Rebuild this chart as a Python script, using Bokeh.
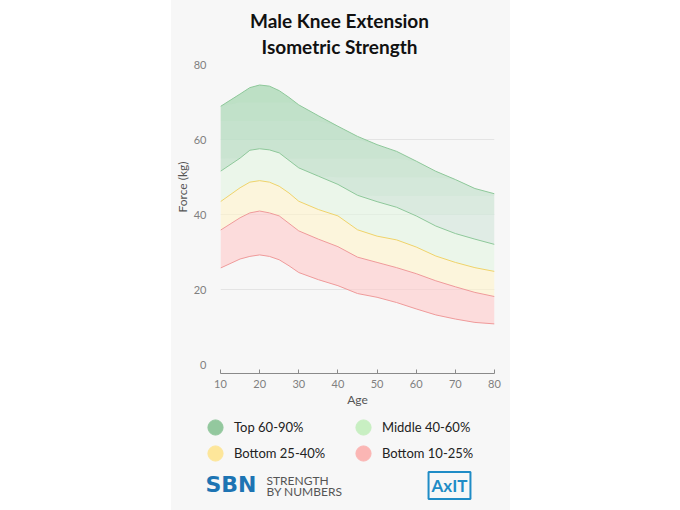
import numpy as np
from bokeh.plotting import figure
from bokeh.models import Label, Legend, LegendItem, FixedTicker, Spacer, Range1d
from bokeh.layouts import row, column
from bokeh.embed import file_html
from bokeh.resources import INLINE

# ---- data ----
ages = [10, 15, 17.5, 20, 22.5, 25, 27.5, 30, 35, 40, 45, 50, 55, 60, 65, 70, 75, 80]
p90 = [68.9, 72.2, 73.9, 74.6, 74.3, 73.1, 71.3, 69.3, 66.4, 63.6, 60.9, 58.7, 56.9, 54.3, 51.6, 49.4, 47.0, 45.6]
p60 = [51.6, 55.1, 57.2, 57.6, 57.3, 56.5, 54.5, 52.5, 50.3, 48.1, 45.2, 43.5, 42.0, 39.7, 37.0, 35.0, 33.5, 32.1]
p40 = [43.5, 47.2, 48.7, 49.1, 48.7, 47.6, 45.8, 43.6, 41.4, 39.7, 36.0, 34.3, 33.3, 31.4, 29.0, 27.3, 25.9, 24.9]
p25 = [35.9, 39.2, 40.5, 41.0, 40.5, 39.7, 37.7, 35.7, 33.5, 31.5, 28.7, 27.3, 25.9, 24.3, 22.4, 20.8, 19.3, 18.2]
p10 = [25.8, 28.2, 28.9, 29.3, 28.9, 28.0, 26.4, 24.6, 22.7, 21.1, 19.0, 18.0, 16.6, 14.9, 13.3, 12.2, 11.3, 10.9]

x_ticks = [10, 20, 30, 40, 50, 60, 70, 80]
y_ticks = [0, 20, 40, 60, 80]
legend_labels = ["Top 60-90%", "Middle 40-60%", "Bottom 25-40%", "Bottom 10-25%"]
legend_colors = ["#93c89e", "#c8efc2", "#fde69a", "#fbb6b4"]

BG = "#f7f7f7"
FONT = "Lato"

# ---------------- main chart (title drawn inside the tall frame) ----------------
p = figure(width=339, height=412, output_backend="svg", toolbar_location=None,
           x_range=Range1d(10, 80), y_range=Range1d(-2.32, 97.13),
           min_border_left=49, min_border_right=16, min_border_top=0, min_border_bottom=39,
           background_fill_color=BG, border_fill_color=BG, outline_line_color=None)
p.frame_align = False

# bands
p.varea(x=ages, y1=p60, y2=p90, fill_color="#dae9e0", fill_alpha=0.8)
# vertical gradient of the top band: light stacked layers above rising levels
lo, hi = np.array(p60), np.array(p90)
for level in (40, 45, 50, 55, 60, 65, 70):
    p.varea(x=ages, y1=np.minimum(np.maximum(lo, level), hi), y2=hi,
            fill_color="#8ed29c", fill_alpha=0.07)
p.varea(x=ages, y1=p40, y2=p60, fill_color="#e3f5e1", fill_alpha=0.6)
p.varea(x=ages, y1=p25, y2=p40, fill_color="#fff4ca", fill_alpha=0.6)
p.varea(x=ages, y1=p10, y2=p25, fill_color="#ffcaca", fill_alpha=0.6)

# lines
p.line(ages, p90, line_color="#8ec89a", line_width=1)
p.line(ages, p60, line_color="#8ec89a", line_width=1)
p.line(ages, p40, line_color="#efd36a", line_width=1)
p.line(ages, p25, line_color="#ef9a9a", line_width=1)
p.line(ages, p10, line_color="#ef9a9a", line_width=1)

# axes
p.xaxis.ticker = FixedTicker(ticks=x_ticks)
p.yaxis.ticker = FixedTicker(ticks=y_ticks)
p.xgrid.grid_line_color = None
p.ygrid.ticker = FixedTicker(ticks=[20, 40, 60])
p.ygrid.grid_line_color = "#e4e4e4"

p.xaxis.axis_line_color = "#8a8a8a"
p.xaxis.major_tick_line_color = "#8a8a8a"
p.xaxis.major_tick_in = 4
p.xaxis.major_tick_out = 0
p.xaxis.minor_tick_line_color = None
p.xaxis.major_label_standoff = 6
p.xaxis.axis_label = "Age"
p.xaxis.axis_label_standoff = 1

p.yaxis.axis_line_color = None
p.yaxis.major_tick_line_color = None
p.yaxis.minor_tick_line_color = None
p.yaxis.major_label_standoff = 8
p.yaxis.axis_label = "Force (kg)"
p.yaxis.axis_label_standoff = 1

for ax in (p.xaxis, p.yaxis):
    ax.major_label_text_font = FONT
    ax.major_label_text_font_size = "11px"
    ax.major_label_text_color = "#808080"
    ax.axis_label_text_font = FONT
    ax.axis_label_text_font_size = "12px"
    ax.axis_label_text_font_style = "normal"
    ax.axis_label_text_color = "#555555"

# title
for txt, yy in (("Male Knee Extension", 353.5), ("Isometric Strength", 327)):
    p.add_layout(Label(x=119, y=yy, x_units="screen", y_units="screen", text=txt,
                       text_align="center", text_baseline="middle", text_font=FONT,
                       text_font_size="19px", text_font_style="bold", text_color="#111111"))

# ---------------- footer: legend + logos ----------------
f = figure(width=339, height=98, output_backend="svg", toolbar_location=None,
           x_range=Range1d(0, 1), y_range=Range1d(0, 1),
           min_border_left=0, min_border_right=0, min_border_top=0, min_border_bottom=0,
           x_axis_location=None, y_axis_location=None,
           background_fill_color=BG, border_fill_color=BG, outline_line_color=None)
f.frame_align = False
f.xgrid.grid_line_color = None
f.ygrid.grid_line_color = None

items = []
for lab, col in zip(legend_labels, legend_colors):
    # proxy renderer (no visible data) used only for its legend swatch
    r = f.scatter(x=[np.nan], y=[np.nan], marker="circle", size=15,
                  fill_color=col, line_color=col)
    items.append(LegendItem(label=lab, renderers=[r]))

for row_items, vy in ((items[:2], 64), (items[2:], 38)):
    lg = Legend(items=row_items, orientation="horizontal", location=(25, vy),
                glyph_width=38, glyph_height=38, label_height=20, label_width=110,
                label_standoff=0, spacing=0, padding=0, margin=0,
                background_fill_alpha=0, border_line_alpha=0,
                label_text_font=FONT, label_text_font_size="13px", label_text_color="#222222")
    f.add_layout(lg, "center")

f.add_layout(Label(x=34, y=26, x_units="screen", y_units="screen", text="SBN",
                   text_align="left", text_baseline="middle", text_font="DejaVu Sans",
                   text_font_size="22px", text_font_style="bold", text_color="#1d74b3"))
f.add_layout(Label(x=95, y=29.6, x_units="screen", y_units="screen", text="STRENGTH",
                   text_align="left", text_baseline="middle", text_font=FONT,
                   text_font_size="12px", text_color="#555555"))
f.add_layout(Label(x=95, y=18.6, x_units="screen", y_units="screen", text="BY NUMBERS",
                   text_align="left", text_baseline="middle", text_font=FONT,
                   text_font_size="12px", text_color="#555555"))
f.add_layout(Label(x=278, y=25, x_units="screen", y_units="screen", text="AxIT",
                   text_align="center", text_baseline="middle", text_font=FONT,
                   text_font_size="17px", text_font_style="bold", text_color="#1f8cc6",
                   border_line_color="#1f8cc6", border_line_width=2, padding=3))

panel = column(p, f, spacing=0, styles={"background-color": BG})
layout = row(Spacer(width=171, height=510), panel)
open("out.html", "w").write(file_html(layout, INLINE))
